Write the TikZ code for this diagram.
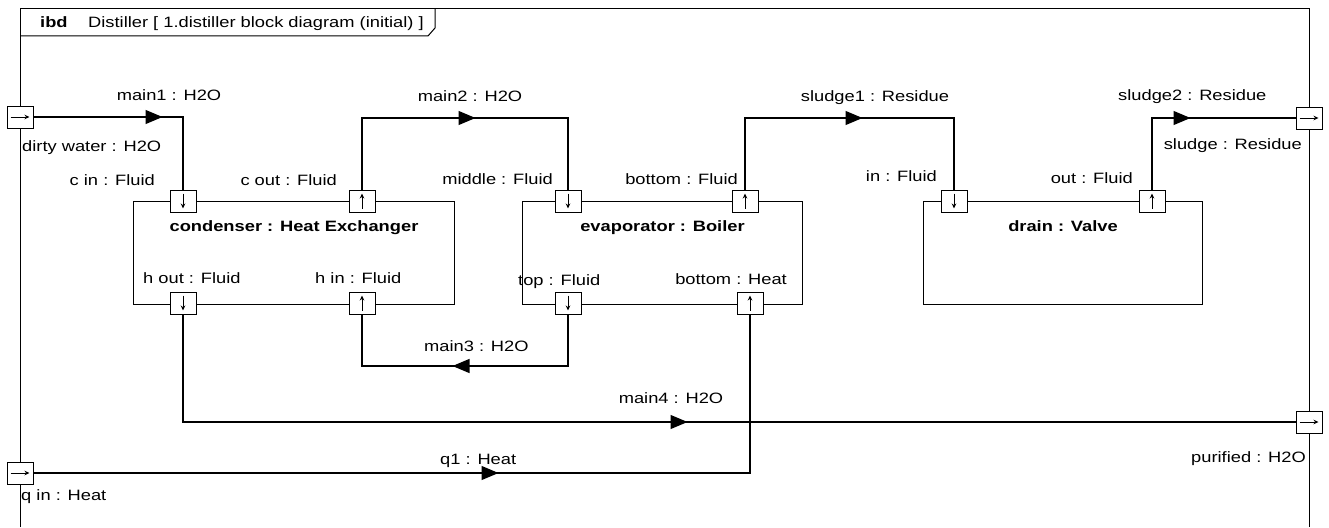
\documentclass[tikz,border=0pt]{standalone}
\usepackage{fontspec}
\setmainfont{Liberation Sans}[FakeStretch=1.22]
\usetikzlibrary{arrows.meta, positioning, decorations.markings}
\tikzset{
	partbox/.style={rectangle, draw=black, line width=1pt, anchor=north west, minimum height=103pt},
	port/.style={rectangle, draw=black, fill=white, line width=1pt, minimum width=26pt, minimum height=22pt, inner sep=0pt},
	% arrow inside a port: angle, half length
	pdir/.style 2 args={path picture={
		\draw[line width=0.9pt, -{Stealth[length=5pt,width=4.5pt]}] ([shift={(#1:-#2)}]path picture bounding box.center) -- ([shift={(#1:#2)}]path picture bounding box.center);}},
	lbl/.style={inner sep=0pt, font=\fontsize{15}{18}\selectfont},
	ptitle/.style={inner sep=0pt, anchor=base, font=\fontsize{15}{18}\selectfont\bfseries},
	% connector with a filled arrow part way along
	conn/.style={line width=1.2pt, postaction={decorate},
		decoration={markings, mark=at position #1 with {\arrow{Triangle[length=17pt,width=14pt]}}}},
}

\begin{document}
\begin{tikzpicture}[x=1pt, y=-1pt]
	\useasboundingbox (0,0) rectangle (1329,527);
	% frame and its tab
	\draw[line width=1pt] (20,527) -- (20,9) -- (1309,9) -- (1309,527);
	\draw[line width=1pt] (20,36) -- (428,36) -- (435,28) -- (435,9);
	\node[lbl, anchor=base west, font=\fontsize{15}{18}\selectfont\bfseries] (kind) at (40,28) {ibd};
	\node[lbl, anchor=base west] (title) at (88,28) {Distiller [ 1.distiller block diagram (initial) ]};

	% parts
	\node[partbox, minimum width=321pt] (condenser) at (133,201) {};
	\node[partbox, minimum width=280pt] (evaporator) at (522,201) {};
	\node[partbox, minimum width=279pt] (drain) at (923,201) {};
	\node[ptitle] (condT) at ([yshift=-30pt]condenser.north) {condenser : Heat Exchanger};
	\node[ptitle] (evapT) at ([yshift=-30pt]evaporator.north) {evaporator : Boiler};
	\node[ptitle] (drainT) at ([yshift=-30pt]drain.north) {drain : Valve};

	% ports
	\foreach \nm/\x/\y/\ang/\len in {cin/183/201/-90/7.5pt, cout/362/201/90/7.5pt, hout/183/303/-90/7.5pt, hin/362/303/90/7.5pt,
		middle/568/201/-90/7.5pt, botF/745/201/90/7.5pt, top/568/303/-90/7.5pt, botH/750/303/90/7.5pt,
		din/954/201/-90/7.5pt, dout/1152/201/90/7.5pt,
		dirtyw/20/117/0/9.5pt, sludge/1309/118/0/9.5pt, purified/1309/422/0/9.5pt, qin/20/473/0/9.5pt} {
		\node[port, pdir={\ang}{\len}] (\nm) at (\x,\y) {};
	}

	% connectors
	\coordinate (topRun) at (0,118);
	\coordinate (lowRun) at (0,366);
	\draw[conn=129pt] (dirtyw.east) -| (cin.north);
	\draw[conn=185pt] (cout.north) |- (topRun -| middle) -- (middle.north);
	\draw[conn=189pt] (botF.north) |- (topRun -| din) -- (din.north);
	\draw[conn=110pt] (dout.north) |- (sludge.west);
	\draw[conn=167pt] (top.south) |- (lowRun -| hin) -- (hin.south);
	\draw[conn=612pt] (hout.south) |- (purified.west);
	\draw[conn=465pt] (qin.east) -| (botH.south);

	% labels
	\foreach \nm/\anc/\x/\y/\txt in {lMain1/base/169/100/main1 : H2O, lDirty/base west/22/151/dirty water : H2O,
		lCin/base east/155/185/c in : Fluid, lCout/base east/337/185/c out : Fluid,
		lMain2/base/470/101/main2 : H2O, lMiddle/base east/553/184/middle : Fluid,
		lBotF/base east/738/184/bottom : Fluid, lSludge1/base/875/101/sludge1 : Residue,
		lIn/base east/937/181/in : Fluid, lOut/base east/1133/183/out : Fluid,
		lSludge2/base west/1118/100/sludge2 : Residue, lSludge/base east/1302/149/sludge : Residue,
		lHout/base west/143/283/h out : Fluid, lHin/base west/315/283/h in : Fluid,
		lTop/base west/518/285/top : Fluid, lBotH/base east/787/284/bottom : Heat,
		lMain3/base west/424/351/main3 : H2O, lMain4/base/671/403/main4 : H2O,
		lQ1/base west/440/464/q1 : Heat, lQin/base west/21/500/q in : Heat,
		lPurified/base east/1306/462/purified : H2O} {
		\node[lbl, anchor=\anc] (\nm) at (\x,\y) {\txt};
	}
\end{tikzpicture}
\end{document}
